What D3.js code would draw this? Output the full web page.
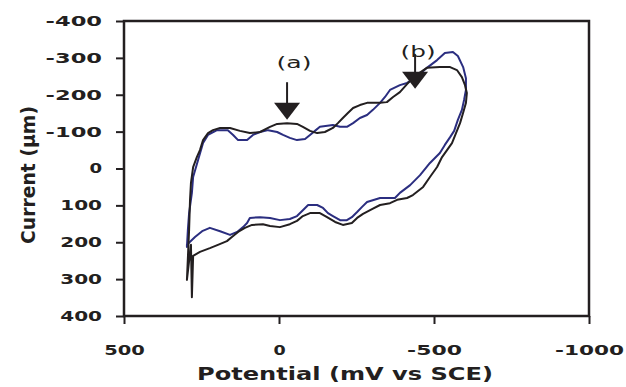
<!DOCTYPE html>
<html><head><meta charset="utf-8">
<script src="https://cdn.jsdelivr.net/npm/d3@7"></script>
<style>
html,body{margin:0;padding:0;background:#fff;}
svg{display:block;}
</style></head>
<body>
<svg id="chart" width="626" height="387"></svg>
<script>
// ---- data (potential mV, current) ----
const xTicks = [500, 0, -500, -1000];
const xTickLabels = ["500", "0", "-500", "-1000"];
const yTicks = [-400, -300, -200, -100, 0, 100, 200, 300, 400];
const yTickLabels = ["-400", "-300", "-200", "-100", "0", "100", "200", "300", "400"];

const blackPotential = [290,287,284,277,265,255,245,229,213,190,158,126,94,61,29,6,-26,-58,-77,-100,-123,-148,-174,-190,-206,-223,-239,-261,-284,-326,-348,-368,-390,-413,-439,-477,-519,-552,-574,-590,-600,-606,-603,-594,-584,-571,-558,-542,-526,-510,-487,-465,-432,-413,-381,-358,-326,-300,-271,-252,-235,-206,-181,-155,-132,-100,-77,-58,-35,-3,29,52,87,110,132,152,168,197,223,255,277,281,284,297,290];
const blackCurrent   = [167,85,39,-4,-31,-50,-77,-96,-104,-110,-110,-102,-96,-99,-113,-121,-123,-121,-113,-102,-96,-99,-110,-123,-137,-151,-164,-172,-178,-178,-180,-194,-207,-229,-251,-273,-275,-275,-267,-248,-226,-205,-178,-151,-123,-96,-69,-50,-31,-4,23,50,72,80,85,94,99,110,123,134,148,153,145,132,121,121,129,142,151,159,156,151,153,161,172,186,197,207,216,226,237,349,207,302,167];

const bluePotential = [297,294,290,281,277,261,245,229,200,165,148,132,103,84,61,35,6,-13,-35,-58,-84,-100,-116,-132,-174,-197,-219,-239,-261,-284,-303,-326,-342,-358,-390,-413,-439,-477,-510,-535,-561,-577,-594,-603,-603,-597,-590,-577,-565,-552,-535,-519,-487,-455,-423,-390,-374,-326,-284,-268,-252,-235,-219,-197,-174,-158,-142,-123,-94,-77,-58,-35,-3,29,61,94,103,116,135,158,190,223,248,271,297];
const blueCurrent   = [213,167,121,66,23,-23,-69,-91,-104,-104,-91,-77,-77,-91,-99,-104,-99,-91,-83,-77,-80,-91,-102,-113,-118,-113,-113,-123,-137,-145,-159,-178,-194,-213,-226,-232,-245,-273,-294,-313,-316,-305,-275,-245,-213,-186,-159,-132,-102,-85,-64,-42,-15,18,45,66,80,80,91,104,118,132,140,140,129,121,107,99,99,113,129,137,140,134,132,134,148,159,172,180,170,161,170,186,207];

const annLabels = ["(a)", "(b)"];
const annX = [-26, -439];
const annTextY = [-290, -319];
const annLineTop = [-234, -310];
const annTipY = [-132, -216];

const seriesColors = ["#231f20", "#2b2e80"];

// ---- layout ----
const svg = d3.select("#chart");
const x = d3.scaleLinear().domain([500, -1000]).range([124, 589]);
const y = d3.scaleLinear().domain([-400, 400]).range([21, 316]);
const ink = "#231f20";
const tickFont = "'DejaVu Sans', sans-serif";

// frame
svg.append("rect")
  .attr("x", x(500)).attr("y", y(-400))
  .attr("width", x(-1000) - x(500)).attr("height", y(400) - y(-400))
  .attr("fill", "none").attr("stroke", ink).attr("stroke-width", 2.5);

// y axis
const yAxis = svg.append("g").attr("transform", `translate(${x(500)},0)`)
  .call(d3.axisLeft(y).tickValues(yTicks).tickSize(8).tickPadding(14)
    .tickFormat((d, i) => yTickLabels[i]));
yAxis.select(".domain").remove();
yAxis.selectAll("line").attr("stroke", ink).attr("stroke-width", 2);
yAxis.selectAll("text")
  .attr("fill", ink).attr("font-family", tickFont).attr("font-weight", "bold")
  .attr("font-size", 14)
  .attr("textLength", function(){ return this.textContent.length * 14.6 - 2; })
  .attr("lengthAdjust", "spacingAndGlyphs");

// x axis
const xAxis = svg.append("g").attr("transform", `translate(0,${y(400)})`)
  .call(d3.axisBottom(x).tickValues(xTicks).tickSize(8).tickPadding(21)
    .tickFormat((d, i) => xTickLabels[i]));
xAxis.select(".domain").remove();
xAxis.selectAll("line").attr("stroke", ink).attr("stroke-width", 2);
xAxis.selectAll("text")
  .attr("fill", ink).attr("font-family", tickFont).attr("font-weight", "bold")
  .attr("font-size", 14)
  .attr("textLength", function(){ return this.textContent.length * 14.2 - 2; })
  .attr("lengthAdjust", "spacingAndGlyphs");

// axis titles
svg.append("text")
  .attr("x", 345).attr("y", 380)
  .attr("text-anchor", "middle")
  .attr("font-family", tickFont).attr("font-weight", "bold").attr("font-size", 17)
  .attr("fill", ink)
  .attr("textLength", 296).attr("lengthAdjust", "spacingAndGlyphs")
  .text("Potential (mV vs SCE)");

svg.append("text")
  .attr("transform", "translate(35,175) rotate(-90)")
  .attr("text-anchor", "middle")
  .attr("font-family", tickFont).attr("font-weight", "bold").attr("font-size", 19)
  .attr("fill", ink)
  .attr("textLength", 138).attr("lengthAdjust", "spacingAndGlyphs")
  .text("Current (µm)");

// curves
const line = d3.line().x(d => x(d[0])).y(d => y(d[1])).curve(d3.curveLinear);
const blue = d3.zip(bluePotential, blueCurrent);
const black = d3.zip(blackPotential, blackCurrent);
svg.append("path").datum(blue)
  .attr("d", d => line(d) + "Z")
  .attr("fill", "none").attr("stroke", seriesColors[1]).attr("stroke-width", 2)
  .attr("stroke-linejoin", "round");
svg.append("path").datum(black)
  .attr("d", line)
  .attr("fill", "none").attr("stroke", seriesColors[0]).attr("stroke-width", 2)
  .attr("stroke-linejoin", "round");

// annotations
annLabels.forEach((lab, i) => {
  const ax = x(annX[i]);
  svg.append("line")
    .attr("x1", ax).attr("x2", ax)
    .attr("y1", y(annLineTop[i])).attr("y2", y(annTipY[i]) - 12)
    .attr("stroke", ink).attr("stroke-width", 2);
  const tip = y(annTipY[i]);
  svg.append("path")
    .attr("d", `M${ax - 13},${tip - 17}L${ax + 13},${tip - 17}L${ax},${tip}Z`)
    .attr("fill", ink);
  svg.append("text")
    .attr("x", ax + (i === 0 ? 7 : 3)).attr("y", y(annTextY[i]) + 6)
    .attr("text-anchor", "middle")
    .attr("font-family", tickFont).attr("font-size", 16)
    .attr("fill", ink)
    .attr("textLength", 35).attr("lengthAdjust", "spacingAndGlyphs")
    .text(lab);
});
</script>
</body></html>
